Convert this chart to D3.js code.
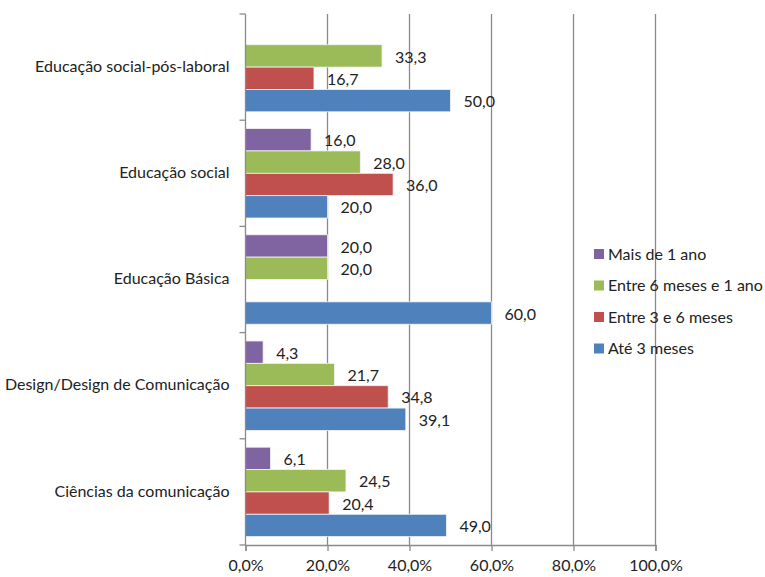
<!DOCTYPE html>
<html>
<head>
<meta charset="utf-8">
<script src="https://cdn.jsdelivr.net/npm/d3@7"></script>
<style>
  body { margin: 0; background: #fff; }
  text { font-family: Lato, "Open Sans", sans-serif; fill: #222; }
</style>
</head>
<body>
<svg width="765" height="577"></svg>
<script>
// data
const categories = [
  "Educação social-pós-laboral",
  "Educação social",
  "Educação Básica",
  "Design/Design de Comunicação",
  "Ciências da comunicação"
];
const seriesNames = ["Mais de 1 ano", "Entre 6 meses e 1 ano", "Entre 3 e 6 meses", "Até 3 meses"];
const seriesColors = ["#8064A2", "#9BBB59", "#C0504D", "#4F81BD"];
// one array per series, in category order (null = no bar)
const maisDe1Ano   = [null, 16.0, 20.0, 4.3, 6.1];
const entre6e12    = [33.3, 28.0, 20.0, 21.7, 24.5];
const entre3e6     = [16.7, 36.0, null, 34.8, 20.4];
const ate3Meses    = [50.0, 20.0, 60.0, 39.1, 49.0];
const seriesValues = [maisDe1Ano, entre6e12, entre3e6, ate3Meses];
const xTicks = [0, 20, 40, 60, 80, 100];

const svg = d3.select("svg");
const fmt = d3.format(".1f");
const comma = (v) => fmt(v).replace(".", ",");
const fs = 16;

// scales
const x = d3.scaleLinear().domain([0, 100]).range([245.5, 655.5]);
const y = d3.scaleBand().domain(categories).range([14, 545]);
const inner = d3.scaleBand().domain(seriesNames).range([0, y.bandwidth()]).paddingOuter(0.375).paddingInner(0);

// gridlines
svg.append("g")
  .selectAll("line")
  .data(xTicks.slice(1))
  .enter().append("line")
    .attr("x1", (d) => x(d)).attr("x2", (d) => x(d))
    .attr("y1", 14).attr("y2", 545)
    .attr("stroke", "#8a8a8a").attr("stroke-width", 1.3);

// bars
const rows = [];
categories.forEach((c, i) => {
  seriesNames.forEach((s, j) => {
    const v = seriesValues[j][i];
    if (v != null) rows.push({ cat: c, series: s, color: seriesColors[j], value: v });
  });
});

const bars = svg.append("g");
bars.selectAll("rect")
  .data(rows)
  .enter().append("rect")
    .attr("x", x(0))
    .attr("y", (d) => y(d.cat) + inner(d.series))
    .attr("width", (d) => x(d.value) - x(0))
    .attr("height", inner.bandwidth())
    .attr("fill", (d) => d.color)
    .attr("stroke", "#f4f4f4")
    .attr("stroke-width", 0.8);

bars.selectAll("text")
  .data(rows)
  .enter().append("text")
    .attr("x", (d) => x(d.value) + 13)
    .attr("y", (d) => y(d.cat) + inner(d.series) + inner.bandwidth() / 2 + 1)
    .attr("dy", "0.35em")
    .attr("font-size", fs)
    .text((d) => comma(d.value));

// axes
const xAxis = svg.append("g")
  .attr("transform", "translate(0,545)")
  .call(d3.axisBottom(x).tickValues(xTicks).tickSize(6).tickPadding(9).tickFormat((d) => comma(d) + "%"));
xAxis.selectAll("line, path").attr("stroke", "#8a8a8a").attr("stroke-width", 1.3);
xAxis.selectAll("text").attr("font-size", fs).attr("fill", "#222").style("font-family", "Lato, 'Open Sans', sans-serif");

const yAxis = svg.append("g")
  .attr("transform", "translate(245.5,0)");
yAxis.append("line")
  .attr("y1", 14).attr("y2", 545)
  .attr("stroke", "#8a8a8a").attr("stroke-width", 1.3);
yAxis.selectAll(".tk")
  .data(categories.concat(["end"]))
  .enter().append("line")
    .attr("class", "tk")
    .attr("x1", -6).attr("x2", 0)
    .attr("y1", (d, i) => i < categories.length ? y(d) : 545)
    .attr("y2", (d, i) => i < categories.length ? y(d) : 545)
    .attr("stroke", "#8a8a8a").attr("stroke-width", 1.3);
yAxis.selectAll("text")
  .data(categories)
  .enter().append("text")
    .attr("x", -16)
    .attr("y", (d) => y(d) + y.bandwidth() / 2 - 1)
    .attr("dy", "0.35em")
    .attr("text-anchor", "end")
    .attr("font-size", fs)
    .text((d) => d);

// legend
const legend = svg.append("g").attr("transform", "translate(594,254)");
const li = legend.selectAll("g")
  .data(seriesNames)
  .enter().append("g")
    .attr("transform", (d, i) => `translate(0,${i * 31.5})`);
li.append("rect")
  .attr("x", 0).attr("y", -5).attr("width", 10).attr("height", 10)
  .attr("fill", (d, i) => seriesColors[i]);
li.append("text")
  .attr("x", 14).attr("y", 0).attr("dy", "0.35em")
  .attr("font-size", fs)
  .text((d) => d);
</script>
</body>
</html>
